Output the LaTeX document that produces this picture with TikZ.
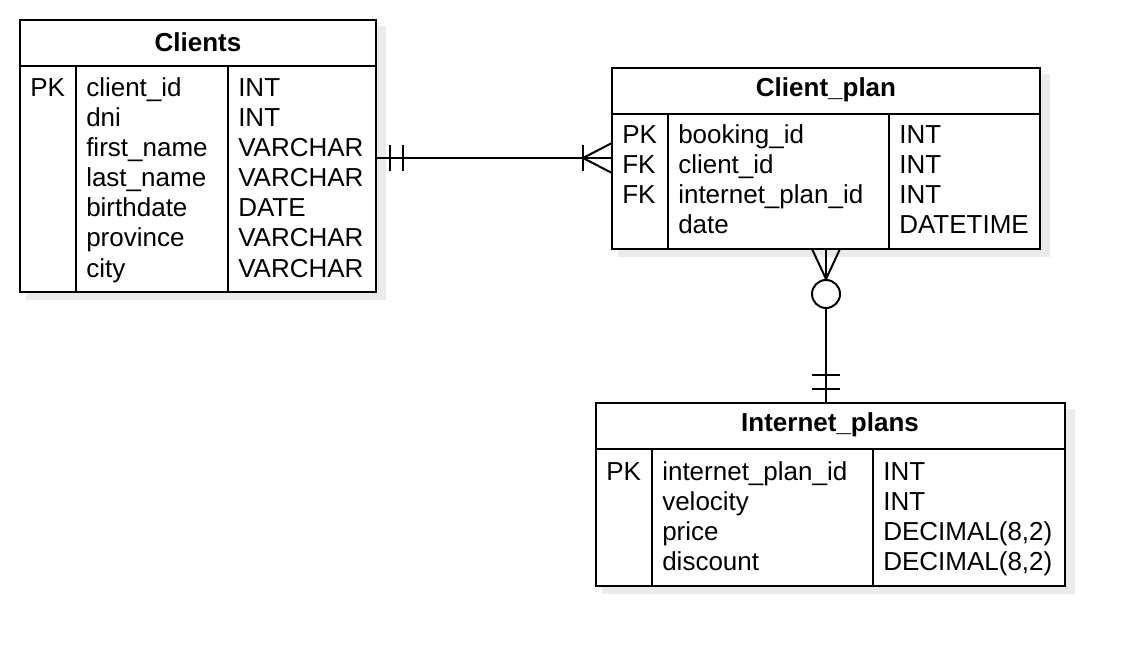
\documentclass[tikz,border=0pt]{standalone}
\usepackage{fontspec}
\setmainfont{Liberation Sans}
\begin{document}
\begin{tikzpicture}[x=0.75pt,y=-0.75pt,
  cell/.style={anchor=base west,inner sep=0pt,font=\fontsize{19.5}{19.5}\selectfont},
  head/.style={anchor=center,inner sep=0pt,font=\fontsize{19.5}{19.5}\selectfont\bfseries},
  frame/.style={draw=black,line width=1.5pt,fill=white},
  sep/.style={draw=black,line width=1.2pt},
  conn/.style={draw=black,line width=1.5pt},
  shadow/.style={fill=black,opacity=0.08,draw=none}]
\useasboundingbox (0,0) rectangle (1144,666);
\fill[white] (0,0) rectangle (1144,666);
% ---------- Clients
\fill[shadow] (26,26) rectangle (386,300);
\draw[frame] (20,20) rectangle (376,292);
\draw[sep] (20,66) -- (376,66);
\draw[sep] (76,66) -- (76,292);
\draw[sep] (228,66) -- (228,292);
\node[head] (clientsT) at (198,42) {Clients};
\node[cell] (c1a) at (30,97) {PK};
\foreach \n/\t/\y in {1/client\_id/97,2/dni/127,3/first\_name/157,4/last\_name/187,5/birthdate/217,6/province/247,7/city/277}
  \node[cell] (cn\n) at (86,\y) {\t};
\foreach \n/\t/\y in {1/INT/97,2/INT/127,3/VARCHAR/157,4/VARCHAR/187,5/DATE/217,6/VARCHAR/247,7/VARCHAR/277}
  \node[cell] (ct\n) at (238,\y) {\t};
\coordinate (clientsR) at (376,158);
% ---------- Client_plan
\fill[shadow] (618,74) rectangle (1050,257);
\draw[frame] (612,68) rectangle (1040,249);
\draw[sep] (612,114) -- (1040,114);
\draw[sep] (668,114) -- (668,249);
\draw[sep] (889,114) -- (889,249);
\node[head] (planT) at (826,90) {Client\_plan};
\node[cell] (pk1) at (622,144) {PK};
\node[cell] (pk2) at (622,174) {FK};
\node[cell] (pk3) at (622,204) {FK};
\foreach \n/\t/\y in {1/booking\_id/144,2/client\_id/174,3/internet\_plan\_id/204,4/date/234}
  \node[cell] (pn\n) at (678,\y) {\t};
\foreach \n/\t/\y in {1/INT/144,2/INT/174,3/INT/204,4/DATETIME/234}
  \node[cell] (pt\n) at (899,\y) {\t};
\coordinate (planL) at (612,158);
\coordinate (planB) at (826,249);
% ---------- Internet_plans
\fill[shadow] (602,409) rectangle (1075,594);
\draw[frame] (596,403) rectangle (1065,586);
\draw[sep] (596,449) -- (1065,449);
\draw[sep] (652,449) -- (652,586);
\draw[sep] (873,449) -- (873,586);
\node[head] (ipT) at (830,425) {Internet\_plans};
\node[cell] (ik1) at (606,480) {PK};
\foreach \n/\t/\y in {1/internet\_plan\_id/480,2/velocity/510,3/price/540,4/discount/570}
  \node[cell] (in\n) at (662,\y) {\t};
\foreach \n/\t/\y in {1/INT/480,2/INT/510,3/{DECIMAL(8,2)}/540,4/{DECIMAL(8,2)}/570}
  \node[cell] (it\n) at (883,\y) {\t};
\coordinate (ipTop) at (826,403);
% ---------- Connector Clients -- Client_plan
\draw[conn] (clientsR) -- (planL);
\draw[conn] (390,145) -- (390,171);
\draw[conn] (403,145) -- (403,171);
\draw[conn] (583,145) -- (583,171);
\draw[conn] (612,143) -- (583,158) -- (612,173);
% ---------- Connector Client_plan -- Internet_plans
\draw[conn] (planB) -- (826,280);
\draw[conn] (812,249) -- (826,279) -- (840,249);
\node[draw=black,line width=1.5pt,circle,minimum size=21pt,inner sep=0pt,fill=white] (circ) at (826,294) {};
\draw[conn] (circ.south) -- (ipTop);
\draw[conn] (812,375) -- (840,375);
\draw[conn] (812,389) -- (840,389);
\end{tikzpicture}
\end{document}
